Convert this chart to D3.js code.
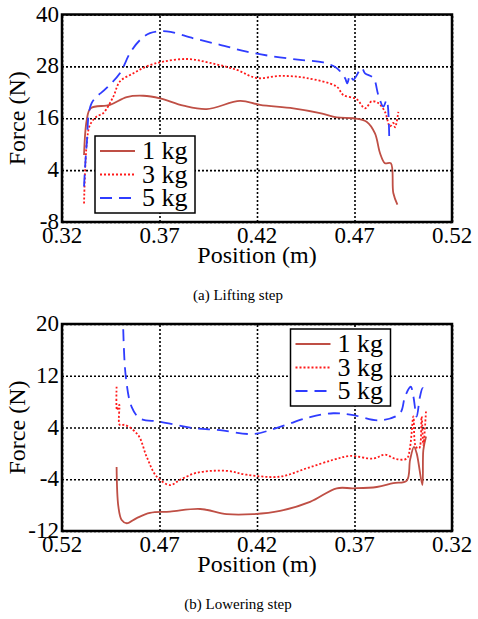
<!DOCTYPE html>
<html>
<head>
<meta charset="utf-8">
<script src="https://cdn.jsdelivr.net/npm/d3@7"></script>
</head>
<body style="margin:0; background:#fff">
<script>
// lifting step: [position (m), force (N)]
const liftPos1 = [0.3313, 0.3327, 0.3347, 0.3446, 0.3532, 0.3617, 0.3703, 0.3823, 0.3942, 0.4113, 0.4215, 0.4386, 0.4523, 0.4609, 0.4694, 0.4762, 0.4805, 0.4831, 0.4856, 0.4886, 0.4899, 0.4920];
const liftF1   = [7.5, 15.6, 18.3, 19.1, 20.9, 21.2, 20.6, 18.9, 18.1, 20.0, 19.1, 18.3, 17.2, 16.2, 16.0, 15.2, 12.5, 7.9, 5.6, 5.6, -1.3, -4.0];
const liftPos3 = [0.3313, 0.3327, 0.3344, 0.3378, 0.3412, 0.3463, 0.3497, 0.3566, 0.3634, 0.3719, 0.3848, 0.3959, 0.4096, 0.4198, 0.4318, 0.4455, 0.4609, 0.4642, 0.4711, 0.4754, 0.4788, 0.4822, 0.4856, 0.4882, 0.4899, 0.4908, 0.4925];
const liftF3   = [-3.7, 10.2, 14.5, 16.4, 17.2, 21.0, 24.5, 26.4, 28.0, 29.1, 29.7, 28.8, 27.2, 25.3, 25.8, 25.3, 23.3, 21.4, 20.4, 18.3, 19.9, 19.5, 17.5, 14.1, 14.9, 13.9, 17.5];
const liftPos5 = [0.3313, 0.3327, 0.3352, 0.3429, 0.3497, 0.3549, 0.3600, 0.3651, 0.3737, 0.3873, 0.4010, 0.4147, 0.4283, 0.4421, 0.4540, 0.4609, 0.4651, 0.4663, 0.4677, 0.4694, 0.4737, 0.4754, 0.4797, 0.4822, 0.4848, 0.4865, 0.4878];
const liftF5   = [0.2, 10.2, 19.5, 23.0, 26.4, 31.1, 34.1, 35.7, 36.1, 34.5, 33.0, 31.4, 30.3, 29.5, 28.9, 27.6, 25.3, 24.1, 26.0, 24.9, 27.6, 26.4, 25.3, 21.4, 18.7, 20.2, 11.8];

// lowering step
const lowPos1 = [0.4920, 0.4911, 0.4894, 0.4868, 0.4817, 0.4749, 0.4646, 0.4492, 0.4355, 0.4219, 0.4082, 0.3928, 0.3791, 0.3706, 0.3586, 0.3501, 0.3432, 0.3415, 0.3395, 0.3381, 0.3352, 0.3347, 0.3333];
const lowF1   = [-2.1, -8.2, -10.3, -10.8, -10.0, -9.2, -9.0, -8.6, -9.4, -9.4, -8.9, -7.5, -5.4, -5.4, -5.2, -4.6, -4.2, -1.0, 1.0, 0.0, -4.9, 0.5, 2.6];
const lowPos3 = [0.4920, 0.4918, 0.4906, 0.4904, 0.4877, 0.4809, 0.4766, 0.4714, 0.4646, 0.4595, 0.4509, 0.4355, 0.4253, 0.4082, 0.3945, 0.3809, 0.3723, 0.3603, 0.3544, 0.3484, 0.3432, 0.3415, 0.3398, 0.3385, 0.3368, 0.3356, 0.3347, 0.3333];
const lowF3   = [10.3, 6.7, 7.5, 4.4, 4.4, 2.8, -0.5, -3.6, -4.9, -4.1, -3.0, -2.7, -3.3, -3.6, -2.3, -1.0, -0.4, -0.8, -0.2, -0.9, -0.8, 1.0, 5.7, 1.0, 0.8, 5.7, 1.3, 6.7];
const lowPos5 = [0.4886, 0.4873, 0.4843, 0.4800, 0.4697, 0.4527, 0.4390, 0.4219, 0.4082, 0.3928, 0.3809, 0.3706, 0.3569, 0.3467, 0.3441, 0.3412, 0.3398, 0.3381, 0.3364, 0.3350, 0.3335];
const lowF5   = [19.2, 11.9, 7.2, 5.4, 4.9, 3.9, 3.6, 3.0, 4.1, 5.6, 6.2, 5.9, 5.1, 6.2, 8.8, 10.3, 8.8, 5.7, 8.8, 10.1, 9.5];

const seriesNames = ['1 kg', '3 kg', '5 kg'];
const xTicks = [0.32, 0.37, 0.42, 0.47, 0.52];
const liftYTicks = [-8, 4, 16, 28, 40];
const lowYTicks = [-12, -4, 4, 12, 20];

const styles = [
    { color: '#bf4f45', dash: null, width: 1.8 },
    { color: '#ff1a1a', dash: '2,2', width: 1.8 },
    { color: '#2f3cff', dash: '12,7', width: 1.8 }
];

const svg = d3.select('body')
    .append('svg')
    .attr('width', 478)
    .attr('height', 619);

function zip(xs, ys) {
    return xs.map((x, i) => [x, ys[i]]);
}

function addText(parent, size) {
    return parent.append('text')
        .attr('font-family', '"Times New Roman"')
        .attr('font-size', size)
        .attr('fill', '#000');
}

function drawPanel(opt) {
    const x = d3.scaleLinear().domain(opt.xDomain).range([62, 452]);
    const y = d3.scaleLinear().domain(opt.yDomain).range([opt.bottom, opt.top]);
    const g = svg.append('g');

    // dotted grid
    g.append('g')
        .attr('transform', `translate(0, ${opt.bottom})`)
        .call(d3.axisBottom(x).tickValues(xTicks).tickSize(-(opt.bottom - opt.top)).tickFormat(''))
        .call(s => s.select('.domain').remove())
        .call(s => s.selectAll('text').remove())
        .selectAll('line')
        .attr('stroke', '#000')
        .attr('stroke-width', 1.6)
        .attr('stroke-dasharray', '2,2');
    g.append('g')
        .attr('transform', 'translate(62, 0)')
        .call(d3.axisLeft(y).tickValues(opt.yTicks).tickSize(-390).tickFormat(''))
        .call(s => s.select('.domain').remove())
        .call(s => s.selectAll('text').remove())
        .selectAll('line')
        .attr('stroke', '#000')
        .attr('stroke-width', 1.6)
        .attr('stroke-dasharray', '2,2');

    // curves
    const line = d3.line()
        .x(d => x(d[0]))
        .y(d => y(d[1]))
        .curve(d3.curveCatmullRom.alpha(0.5));
    opt.series.forEach((s, i) => {
        g.append('path')
            .datum(s)
            .attr('fill', 'none')
            .attr('stroke', styles[i].color)
            .attr('stroke-width', styles[i].width)
            .attr('stroke-dasharray', styles[i].dash)
            .attr('stroke-linejoin', 'round')
            .attr('d', line);
    });

    // tick labels
    xTicks.forEach(t => {
        addText(g, 23)
            .attr('x', x(t))
            .attr('y', opt.bottom + 21)
            .attr('text-anchor', 'middle')
            .text(t.toFixed(2));
    });
    opt.yTicks.forEach(t => {
        addText(g, 23)
            .attr('x', 59)
            .attr('y', y(t) + 7)
            .attr('text-anchor', 'end')
            .text(t);
    });

    // frame
    g.append('rect')
        .attr('x', 62)
        .attr('y', opt.top)
        .attr('width', 390)
        .attr('height', opt.bottom - opt.top)
        .attr('fill', 'none')
        .attr('stroke', '#000')
        .attr('stroke-width', 2.5);

    // axis titles
    addText(g, 24)
        .attr('x', 257)
        .attr('y', opt.bottom + 41)
        .attr('text-anchor', 'middle')
        .text('Position (m)');
    addText(g, 24)
        .attr('transform', `translate(25, ${(opt.top + opt.bottom) / 2}) rotate(-90)`)
        .attr('text-anchor', 'middle')
        .text('Force (N)');
    addText(g, 15)
        .attr('x', 238)
        .attr('y', opt.captionY)
        .attr('text-anchor', 'middle')
        .text(opt.caption);

    // legend
    const lg = g.append('g').attr('transform', `translate(${opt.legend[0]}, ${opt.legend[1]})`);
    lg.append('rect')
        .attr('width', 100)
        .attr('height', 77)
        .attr('fill', '#fff')
        .attr('stroke', '#000')
        .attr('stroke-width', 1.5);
    seriesNames.forEach((name, i) => {
        const yy = 15 + i * 23.5;
        lg.append('line')
            .attr('x1', 5).attr('x2', 40)
            .attr('y1', yy).attr('y2', yy)
            .attr('stroke', styles[i].color)
            .attr('stroke-width', styles[i].width)
            .attr('stroke-dasharray', styles[i].dash);
        addText(lg, 26)
            .attr('x', 47)
            .attr('y', yy + 8)
            .text(name);
    });
}

drawPanel({
    xDomain: [0.32, 0.52],
    yDomain: [-8, 40],
    yTicks: liftYTicks,
    top: 14.5,
    bottom: 222,
    series: [zip(liftPos1, liftF1), zip(liftPos3, liftF3), zip(liftPos5, liftF5)],
    legend: [95, 136],
    caption: '(a) Lifting step',
    captionY: 300
});

drawPanel({
    xDomain: [0.52, 0.32],
    yDomain: [-12, 20],
    yTicks: lowYTicks,
    top: 324,
    bottom: 531,
    series: [zip(lowPos1, lowF1), zip(lowPos3, lowF3), zip(lowPos5, lowF5)],
    legend: [290.5, 329],
    caption: '(b) Lowering step',
    captionY: 609
});
</script>
</body>
</html>
